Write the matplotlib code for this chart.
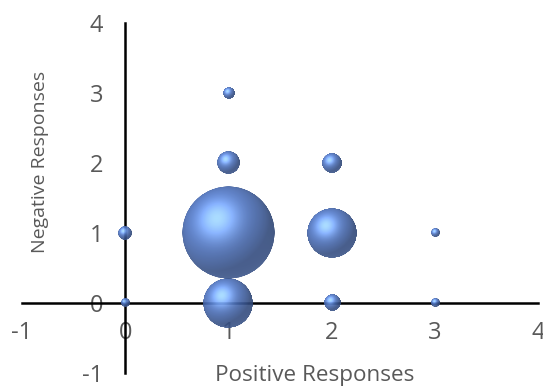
import numpy as np
import matplotlib
matplotlib.use("Agg")
import matplotlib.pyplot as plt
from matplotlib.offsetbox import OffsetImage, AnnotationBbox

# Bubble data: positive / negative response counts and number of cases
positive = [0, 0, 1, 1, 1, 1, 2, 2, 2, 3, 3]
negative = [0, 1, 0, 1, 2, 3, 0, 1, 2, 0, 1]
counts = [1, 3, 39, 135, 8, 2, 4, 39, 6, 1, 1]

x_ticks = [-1, 0, 1, 2, 3, 4]
y_ticks = [-1, 0, 1, 2, 3, 4]

TEXT_COLOR = "#595959"
MAX_DIAMETER = 93  # pixels for the largest bubble

plt.rcParams["axes.unicode_minus"] = False


def sphere_image(n=256, base=(0.33, 0.49, 0.82)):
    """Shaded sphere (RGBA) similar to the Excel 3-D bubble effect."""
    yy, xx = np.mgrid[-1:1:n * 1j, -1:1:n * 1j]
    ny = -yy
    r = np.sqrt(xx ** 2 + yy ** 2)
    z = np.sqrt(np.clip(1 - r ** 2, 0, 1))
    light = np.array([-0.45, 0.55, 0.70])
    light /= np.linalg.norm(light)
    diffuse = np.clip(xx * light[0] + ny * light[1] + z * light[2], 0, 1)
    half = light + np.array([0, 0, 1.0])
    half /= np.linalg.norm(half)
    spec = np.clip(xx * half[0] + ny * half[1] + z * half[2], 0, 1) ** 10
    # soft reflected light near the lower rim
    rim = np.clip(-ny, 0, 1) * (1 - z) ** 2 * 0.2
    shade = 0.62 + 0.42 * diffuse
    rgb = np.array(base)[None, None, :] * shade[..., None]
    rgb = rgb + 0.38 * spec[..., None] * np.array([0.8, 0.95, 1.0]) + rim[..., None] * np.array([0.5, 0.6, 0.8])
    # darker edge
    rgb = rgb * (0.82 + 0.18 * z[..., None] ** 0.5)
    rgb = np.clip(rgb, 0, 1)
    alpha = np.clip((1 - r) * n / 2.0, 0, 1)
    return np.dstack([rgb, alpha])


fig = plt.figure(figsize=(5.43, 3.89), dpi=100)
ax = fig.add_axes([22 / 543, 16 / 389, 516 / 543, 350 / 389])

ax.set_xlim(-1, 4)
ax.set_ylim(-1, 4)
ax.set_xticks(x_ticks)
ax.set_yticks(y_ticks)

# Axes crossing at the origin
for side in ["top", "right"]:
    ax.spines[side].set_visible(False)
for side in ["left", "bottom"]:
    ax.spines[side].set_position(("data", 0))
    ax.spines[side].set_color("black")
    ax.spines[side].set_linewidth(1.8)
    ax.spines[side].set_zorder(2)

ax.tick_params(axis="both", length=0, labelsize=17, labelcolor=TEXT_COLOR)
ax.tick_params(axis="y", pad=16)
ax.tick_params(axis="x", pad=13)
for lab in ax.get_xticklabels() + ax.get_yticklabels():
    lab.set_fontfamily("Open Sans")

# Bubbles: area proportional to the count
img = sphere_image()
vmax = max(counts)
for xv, yv, c in zip(positive, negative, counts):
    d = MAX_DIAMETER * np.sqrt(c / vmax)
    oi = OffsetImage(img, zoom=d / img.shape[0], dpi_cor=False, alpha=0.9)
    ab = AnnotationBbox(oi, (xv, yv), xycoords="data", frameon=False, pad=0,
                        box_alignment=(0.5, 0.5), zorder=3)
    ax.add_artist(ab)

fig.text(315 / 543, 1 - 376 / 389, "Positive Responses", ha="center", va="center",
         fontsize=16.2, color=TEXT_COLOR, family="Open Sans")
fig.text(40 / 543, 1 - 162 / 389, "Negative Responses", ha="center", va="center",
         rotation=90, fontsize=14, color=TEXT_COLOR, family="Open Sans")

fig.savefig("out.png", dpi=100, facecolor="white")
